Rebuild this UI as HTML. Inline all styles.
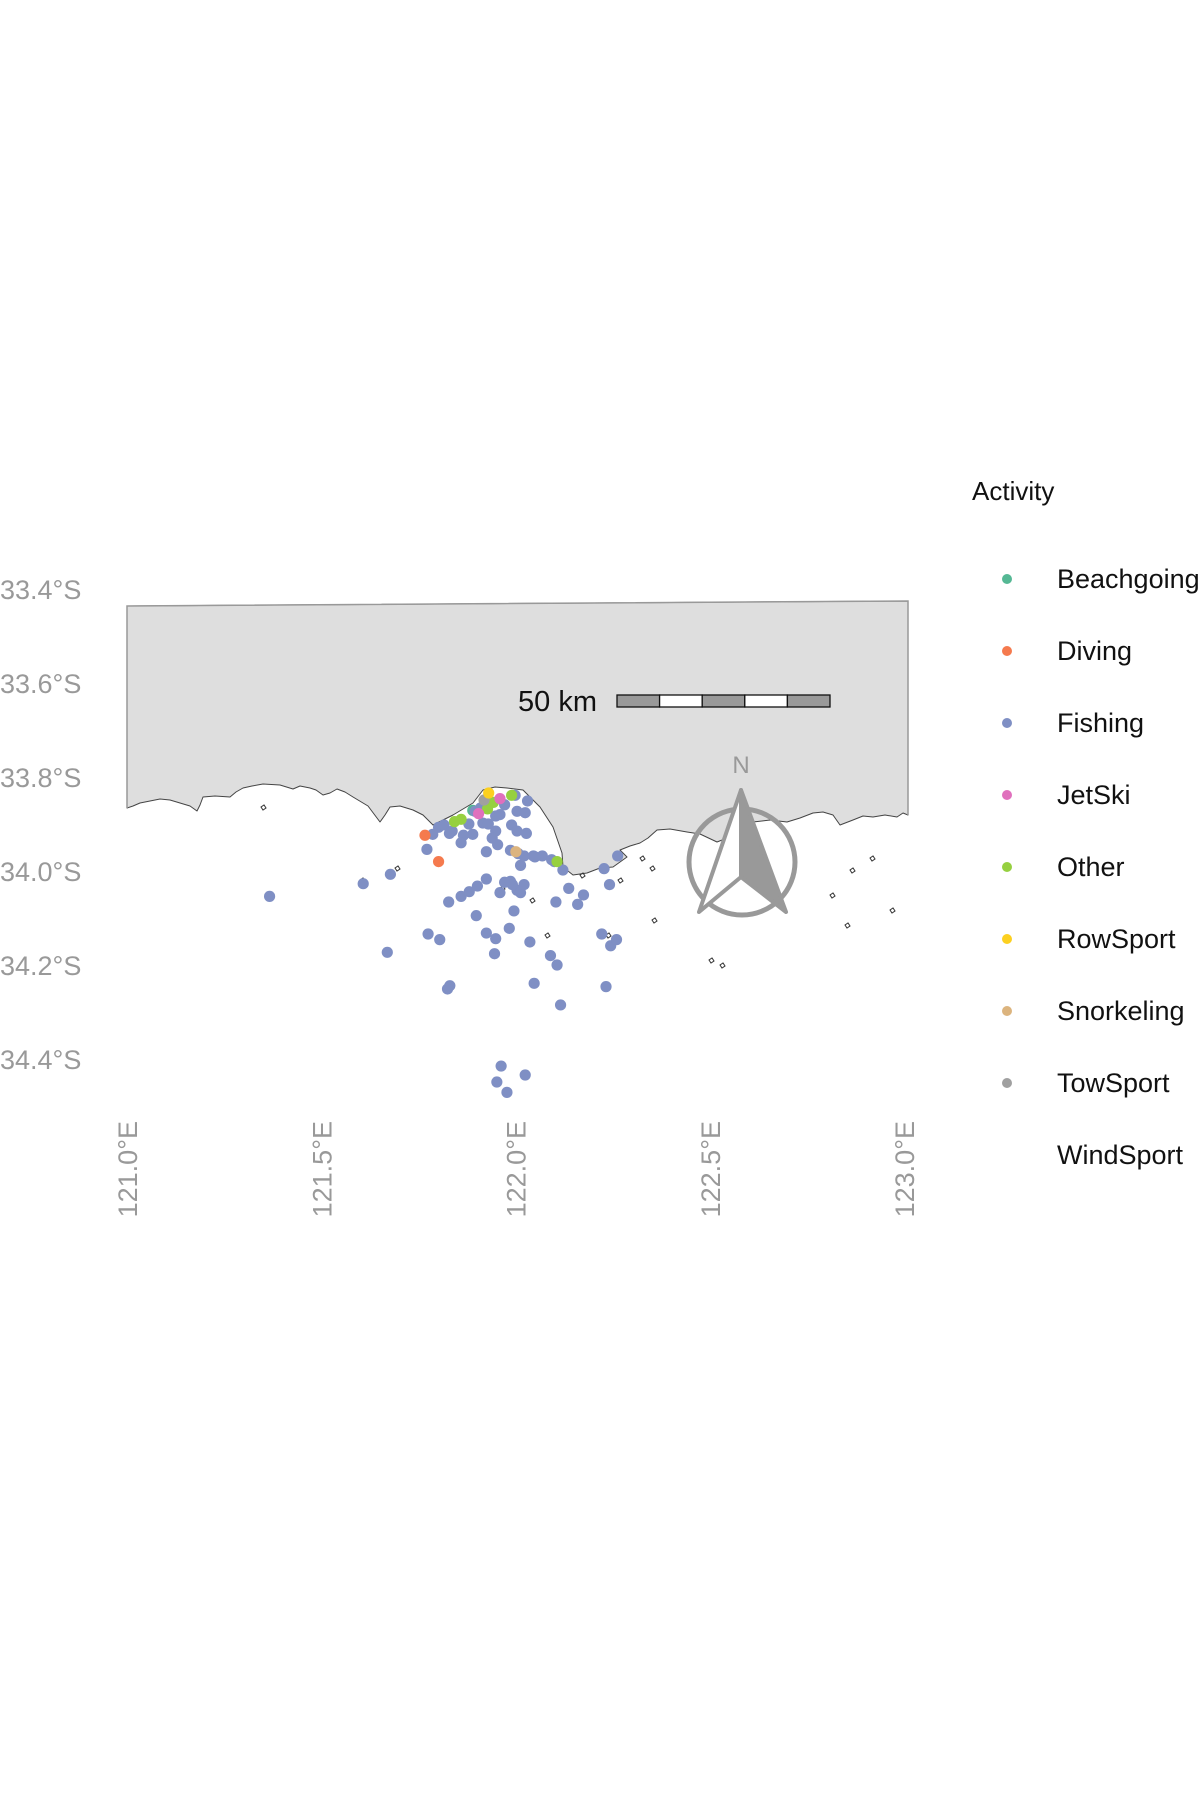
<!DOCTYPE html>
<html><head><meta charset="utf-8"><style>
html,body{margin:0;padding:0;background:#fff;}
svg{display:block;font-family:"Liberation Sans",Arial,sans-serif;}
</style></head><body>
<svg id="chart" width="1200" height="1800" viewBox="0 0 1200 1800" xmlns="http://www.w3.org/2000/svg">
<g id="land"></g>
<g id="marks"></g>
<g id="yaxis"></g>
<g id="xaxis"></g>
<g id="scalebar"></g>
<g id="north"></g>
<g id="legend"></g>
</svg>
<script>
const latTicks=[33.4,33.6,33.8,34.0,34.2,34.4];
const latLabels=["33.4°S","33.6°S","33.8°S","34.0°S","34.2°S","34.4°S"];
const lonTicks=[121.0,121.5,122.0,122.5,123.0];
const lonLabels=["121.0°E","121.5°E","122.0°E","122.5°E","123.0°E"];
const categories=["Beachgoing","Diving","Fishing","JetSki","Other","RowSport","Snorkeling","TowSport","WindSport"];
const fishingLon=[121.367,121.608,121.678,121.670,121.772,121.775,121.805,121.828,121.831,121.825,121.860,121.881,121.902,121.899,121.925,121.925,121.946,121.949,121.963,121.952,121.978,122.025,121.960,121.972,121.987,121.984,121.996,122.004,122.013,122.037,122.048,122.090,122.107,122.116,122.104,122.137,122.160,122.175,122.228,122.222,122.233,122.245,122.260,122.242,122.263,122.046,122.069,122.093,122.122,122.022,122.007,121.987,121.954,121.990,122.004,122.028,122.004,122.025,122.031,121.999,121.972,121.949,121.916,121.890,121.866,121.837,121.802,121.816,121.787,121.896,121.910,121.949,121.925,122.013,121.992,122.022,122.586,121.88,121.93,121.96,122.05,121.94,121.86,122.10,121.83];
const fishingLat=[34.054,34.027,34.007,34.173,33.954,34.134,34.146,34.066,34.244,34.251,34.054,34.044,34.032,34.095,34.017,34.132,34.176,34.144,34.415,34.449,34.471,34.434,34.046,34.024,34.022,34.122,34.085,34.041,34.046,34.151,34.239,34.180,34.200,34.285,34.066,34.037,34.071,34.051,33.995,34.134,34.246,34.159,34.146,34.029,33.968,33.968,33.968,33.976,33.998,33.968,33.963,33.956,33.944,33.902,33.915,33.920,33.873,33.876,33.851,33.839,33.859,33.883,33.898,33.922,33.924,33.915,33.907,33.902,33.922,33.873,33.866,33.915,33.959,33.988,34.029,34.029,33.927,33.90,33.90,33.88,33.97,33.93,33.94,33.98,33.92];
const otherLon=[121.843,121.860,121.928,121.943,121.990,122.107];
const otherLat=[33.895,33.890,33.868,33.854,33.839,33.980];
const divingLon=[121.767,121.802];
const divingLat=[33.924,33.980];
const jetskiLon=[121.960,121.905];
const jetskiLat=[33.846,33.878];
const rowLon=[121.931]; const rowLat=[33.834];
const towLon=[121.919]; const towLat=[33.849];
const snorkLon=[122.001]; const snorkLat=[33.959];
const beachLon=[121.890]; const beachLat=[33.871];
const colors=["#55b894","#f57a4e","#7f8fc4","#e070bd","#96d040","#fcd020","#dcb47e","#a0a0a0",null];

const NS="http://www.w3.org/2000/svg";
function X(lon){return 127+(lon-121)*388.5;}
function Y(lat){return 589+(lat-33.4)*470;}
function mk(tag,attrs,parent){const e=document.createElementNS(NS,tag);for(const k in attrs)e.setAttribute(k,attrs[k]);parent.appendChild(e);return e;}

// land
const land=document.getElementById('land');
const coast=[[908,815],[903,813],[897,817],[885,815],[873,817],[863,816],[853,820],[840,825],[833,815],[823,812],[813,813],[800,818],[787,822],[770,820],[753,822],[735,835],[717,842],[700,834],[687,832],[670,829],[657,830],[648,838],[640,843],[630,846],[620,850],[627,857],[613,867],[600,868],[587,873],[573,875],[563,867],[562,853],[553,827],[540,807],[523,790],[507,788],[495,787],[483,790],[473,803],[463,809],[453,815],[443,820],[433,825],[423,815],[413,810],[400,806],[390,807],[385,815],[380,822],[368,806],[353,797],[345,792],[337,789],[330,793],[323,795],[316,790],[310,788],[300,786],[293,789],[280,785],[263,784],[252,786],[243,788],[236,792],[230,797],[215,796],[203,797],[200,805],[197,811],[190,806],[180,803],[170,800],[160,799],[150,801],[140,803],[133,806],[127,808]];
let d="M127,606 L908,601 ";
coast.forEach(p=>{d+="L"+p[0]+","+p[1]+" ";});
d+="Z";
const lp=mk('path',{d:d,fill:"#dedede",stroke:"#444","stroke-width":"1","stroke-linejoin":"round"},land);


const side=mk('path',{d:"M127,808 L127,606 L908,601 L908,815",fill:"none",stroke:"#999","stroke-width":"1.5"},land);


const islands=[[261,807],[360,880],[395,868],[500,888],[530,900],[545,935],[606,935],[652,920],[618,880],[709,960],[640,858],[830,895],[850,870],[870,858],[890,910],[845,925],[720,965],[650,868],[580,875]];
islands.forEach(p=>{const e=mk('path',{d:"M"+p[0]+","+p[1]+" l3,-2 l2,3 l-3,2 z",fill:"none",stroke:"#333","stroke-width":"1"},land);

});

// points
const marks=document.getElementById('marks');
function plot(lons,lats,col,name){lons.forEach((lo,i)=>{const c=mk('circle',{cx:X(lo),cy:Y(lats[i]),r:5.6,fill:col},marks);

});}
plot(beachLon,beachLat,colors[0],'beachgoing');
plot(fishingLon,fishingLat,colors[2],'fishing');
plot(divingLon,divingLat,colors[1],'diving');
plot(otherLon,otherLat,colors[4],'other');
plot(jetskiLon,jetskiLat,colors[3],'jetski');
plot(towLon,towLat,colors[7],'towsport');
plot(rowLon,rowLat,colors[5],'rowsport');
plot(snorkLon,snorkLat,colors[6],'snorkeling');

// axes
const ya=document.getElementById('yaxis');
latTicks.forEach((v,i)=>{const t=mk('text',{x:0,y:Y(v)+10,"font-size":"27",fill:"#999"},ya);t.textContent=latLabels[i];

});
const xa=document.getElementById('xaxis');
lonTicks.forEach((v,i)=>{const x=X(v)+10;const t=mk('text',{x:x,y:1121,"font-size":"27",fill:"#999","text-anchor":"end",transform:"rotate(-90 "+x+" 1121)"},xa);t.textContent=lonLabels[i];

});

// scale bar
const sb=document.getElementById('scalebar');
const st=mk('text',{x:597,y:711,"font-size":"29",fill:"#111","text-anchor":"end"},sb);st.textContent="50 km";


for(let i=0;i<5;i++){const r=mk('rect',{x:617+i*42.6,y:695,width:42.6,height:12,fill:i%2?"#fff":"#999",stroke:"#111","stroke-width":"1.3"},sb);

}

// north arrow
const na=document.getElementById('north');
const nt=mk('text',{x:741,y:773,"font-size":"24",fill:"#999","text-anchor":"middle"},na);nt.textContent="N";


const ring=mk('circle',{cx:742,cy:862,r:53,fill:"none",stroke:"#999","stroke-width":"5"},na);


const lh=mk('path',{d:"M741,790 L699,912 L741,877 Z",fill:"#fff",stroke:"#999","stroke-width":"4","stroke-linejoin":"round"},na);


const rh=mk('path',{d:"M741,790 L786,912 L741,877 Z",fill:"#999",stroke:"#999","stroke-width":"4","stroke-linejoin":"round"},na);



// legend
const lg=document.getElementById('legend');
const tt=mk('text',{x:972,y:500,"font-size":"26",fill:"#111"},lg);tt.textContent="Activity";


categories.forEach((c,i)=>{const y=579+i*72;
const g=mk('g',{},lg);


if(colors[i]){const dot=mk('circle',{cx:1007,cy:y,r:5,fill:colors[i]},g);

}
const t=mk('text',{x:1057,y:y+9,"font-size":"27",fill:"#111"},g);t.textContent=c;

});
</script>
</body></html>
